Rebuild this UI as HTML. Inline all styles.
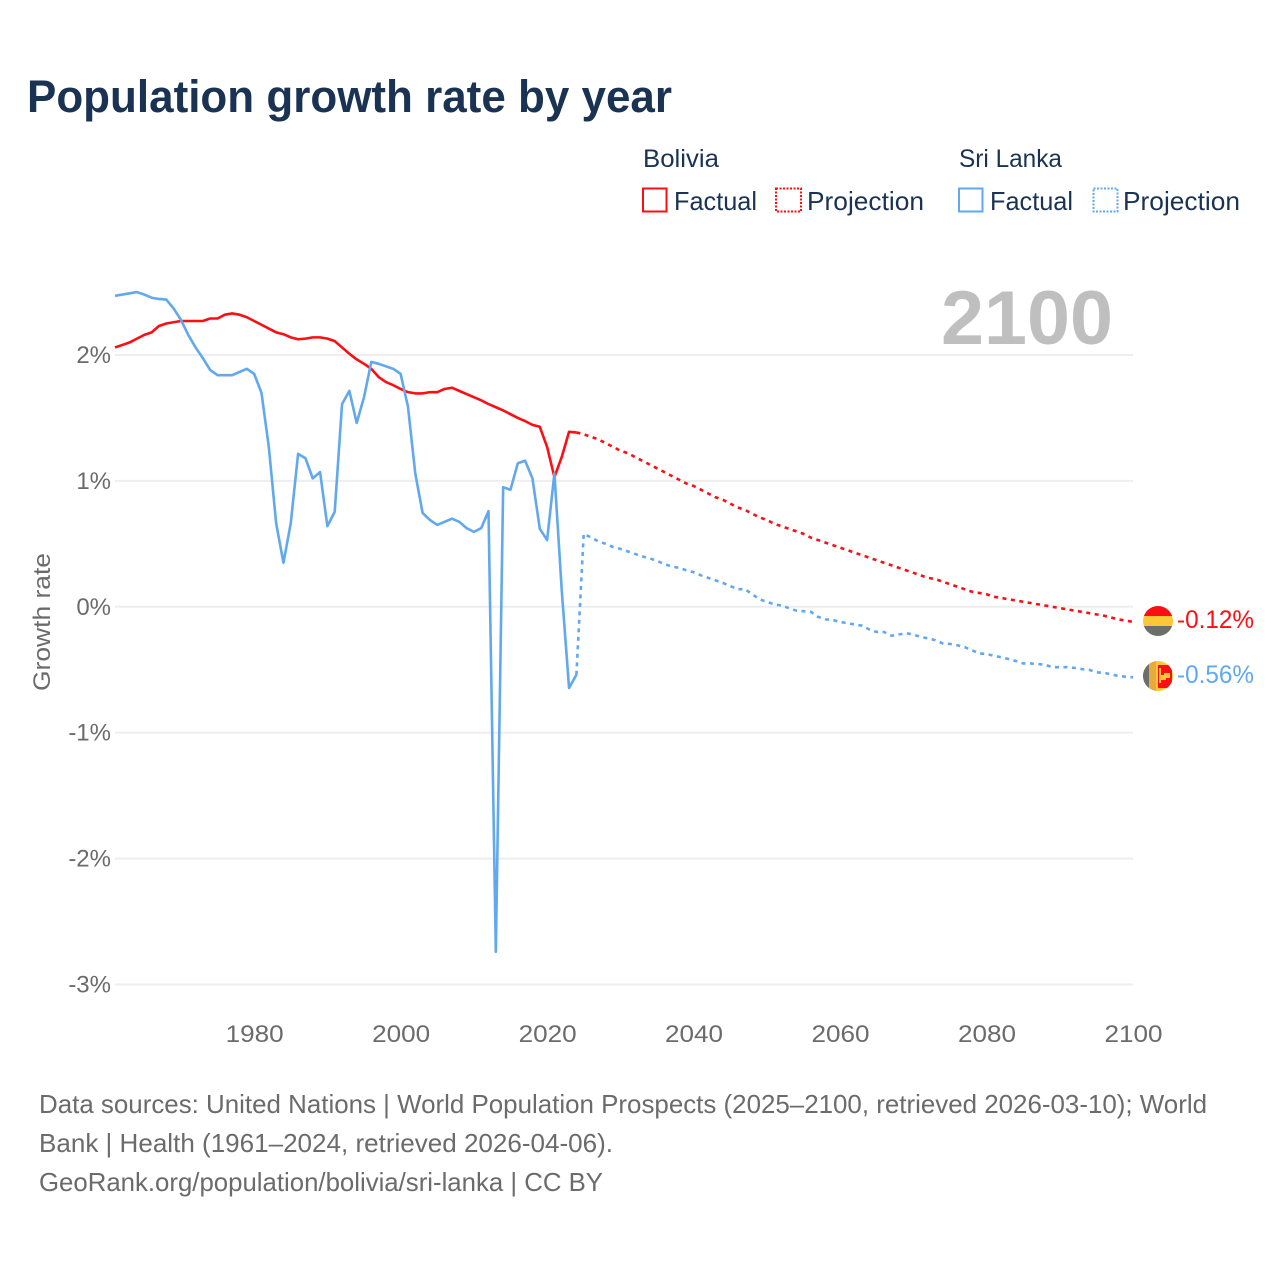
<!DOCTYPE html>
<html lang="en">
<head>
<meta charset="utf-8">
<title>Population growth rate by year</title>
<style>
html,body{margin:0;padding:0;background:#fff;width:1280px;height:1280px;overflow:hidden}
svg{display:block}
text{font-family:"Liberation Sans",sans-serif}
</style>
</head>
<body>
<svg id="chart" xmlns="http://www.w3.org/2000/svg" width="1280" height="1280" viewBox="0 0 1280 1280">
  <text x="27" y="112" font-size="45" font-weight="700" fill="#1a3353" textLength="645" lengthAdjust="spacingAndGlyphs">Population growth rate by year</text>

  <g>
    <text x="643" y="167" font-size="25" fill="#1a3353" textLength="76" lengthAdjust="spacingAndGlyphs">Bolivia</text>
    <text x="959" y="167" font-size="25" fill="#1a3353" textLength="103" lengthAdjust="spacingAndGlyphs">Sri Lanka</text>
    <g>
      <rect x="643" y="188.500" width="23.500" height="23" fill="none" stroke="#fb0f14" stroke-width="2"/>
      <text x="674" y="210" font-size="26" fill="#1a3353" textLength="83" lengthAdjust="spacingAndGlyphs">Factual</text>
    </g>
    <g>
      <rect x="776" y="188.500" width="25" height="23" fill="none" stroke="#fb0f14" stroke-width="2" stroke-dasharray="2 1.500"/>
      <text x="807" y="210" font-size="26" fill="#1a3353" textLength="117" lengthAdjust="spacingAndGlyphs">Projection</text>
    </g>
    <g>
      <rect x="959" y="188.500" width="23.500" height="23" fill="none" stroke="#61a8ee" stroke-width="2"/>
      <text x="990" y="210" font-size="26" fill="#1a3353" textLength="83" lengthAdjust="spacingAndGlyphs">Factual</text>
    </g>
    <g>
      <rect x="1093.500" y="188.500" width="24" height="23" fill="none" stroke="#61a8ee" stroke-width="2" stroke-dasharray="2 1.500"/>
      <text x="1123" y="210" font-size="26" fill="#1a3353" textLength="117" lengthAdjust="spacingAndGlyphs">Projection</text>
    </g>
  </g>

  <g id="grid"></g>
  <text x="941" y="344" font-size="76" font-weight="700" fill="#bfbfbf" textLength="172" lengthAdjust="spacingAndGlyphs">2100</text>
  <g id="yticks"></g>
  <g id="xticks"></g>
  <text transform="translate(50,622) rotate(-90)" text-anchor="middle" font-size="24" fill="#6b6b6b" textLength="138" lengthAdjust="spacingAndGlyphs">Growth rate</text>
  <g id="series"></g>

  <defs>
    <clipPath id="flag-clip-bo"><circle cx="1158" cy="621" r="15"/></clipPath>
    <clipPath id="flag-clip-lk"><circle cx="1158" cy="676" r="15"/></clipPath>
  </defs>
  <g clip-path="url(#flag-clip-bo)">
    <rect x="1143" y="606" width="30" height="10" fill="#fb0f14"/>
    <rect x="1143" y="616" width="30" height="10" fill="#fec737"/>
    <rect x="1143" y="626" width="30" height="10" fill="#6b6e6b"/>
  </g>
  <g clip-path="url(#flag-clip-lk)">
    <rect x="1143" y="661" width="30" height="30" fill="#fec737"/>
    <rect x="1143" y="661" width="6" height="30" fill="#6b6e6b"/>
    <rect x="1149" y="661" width="7" height="30" fill="#e9a93c"/>
    <rect x="1158" y="665" width="14" height="23" fill="#fb0f14"/>
    <path d="M1159 668h2v7h3v-2h6v5h-4v2h-5v3h-2z" fill="#fec737"/>
  </g>
  <text x="1177" y="628" font-size="25" fill="#fb0f14" textLength="77" lengthAdjust="spacingAndGlyphs">-0.12%</text>
  <text x="1177" y="683" font-size="25" fill="#61a8ee" textLength="77" lengthAdjust="spacingAndGlyphs">-0.56%</text>

  <g font-size="26" fill="#6b6b6b">
    <text x="39" y="1113" textLength="1168" lengthAdjust="spacingAndGlyphs">Data sources: United Nations | World Population Prospects (2025–2100, retrieved 2026-03-10); World</text>
    <text x="39" y="1152" textLength="574" lengthAdjust="spacingAndGlyphs">Bank | Health (1961–2024, retrieved 2026-04-06).</text>
    <text x="39" y="1191" textLength="564" lengthAdjust="spacingAndGlyphs">GeoRank.org/population/bolivia/sri-lanka | CC BY</text>
  </g>
</svg>
<script>
const firstYear = 1961;
const yTickValues = [2, 1, 0, -1, -2, -3];
const yTickLabels = ['2%', '1%', '0%', '-1%', '-2%', '-3%'];
const xTickValues = [1980, 2000, 2020, 2040, 2060, 2080, 2100];
const boliviaFactual = [2.06,2.08,2.10,2.13,2.16,2.18,2.23,2.25,2.26,2.27,2.27,2.27,2.27,2.29,2.29,2.32,2.33,2.32,2.30,2.27,2.24,2.21,2.18,2.165,2.14,2.125,2.13,2.14,2.14,2.13,2.11,2.06,2.01,1.965,1.93,1.89,1.825,1.785,1.76,1.73,1.705,1.695,1.695,1.705,1.705,1.73,1.74,1.715,1.69,1.665,1.64,1.61,1.585,1.56,1.53,1.50,1.475,1.445,1.43,1.27,1.03,1.19,1.39,1.385];
const boliviaProjection = [1.37,1.35,1.33,1.30,1.27,1.24,1.22,1.19,1.16,1.13,1.10,1.07,1.04,1.01,0.98,0.96,0.93,0.90,0.87,0.85,0.82,0.79,0.77,0.74,0.71,0.69,0.66,0.64,0.62,0.60,0.58,0.55,0.53,0.51,0.49,0.47,0.45,0.43,0.41,0.39,0.37,0.35,0.33,0.31,0.29,0.27,0.25,0.23,0.22,0.20,0.18,0.16,0.14,0.12,0.11,0.10,0.08,0.07,0.06,0.05,0.04,0.03,0.02,0.01,0.00,-0.01,-0.02,-0.03,-0.04,-0.05,-0.06,-0.07,-0.085,-0.10,-0.11,-0.12];
const sriLankaFactual = [2.47,2.48,2.49,2.50,2.48,2.455,2.445,2.44,2.37,2.28,2.16,2.06,1.975,1.88,1.84,1.84,1.84,1.865,1.89,1.85,1.70,1.27,0.665,0.35,0.665,1.215,1.18,1.02,1.07,0.64,0.755,1.61,1.715,1.46,1.665,1.945,1.93,1.91,1.89,1.85,1.59,1.06,0.745,0.69,0.65,0.675,0.70,0.675,0.625,0.595,0.625,0.76,-2.74,0.95,0.93,1.14,1.16,1.02,0.62,0.53,1.06,0.13,-0.645,-0.54];
const sriLankaProjection = [0.58,0.55,0.52,0.50,0.475,0.46,0.44,0.42,0.40,0.385,0.365,0.34,0.32,0.31,0.29,0.275,0.25,0.23,0.21,0.19,0.165,0.14,0.14,0.10,0.06,0.04,0.02,0.01,-0.01,-0.03,-0.035,-0.04,-0.08,-0.10,-0.105,-0.12,-0.13,-0.14,-0.15,-0.18,-0.20,-0.20,-0.23,-0.22,-0.21,-0.22,-0.24,-0.25,-0.265,-0.29,-0.295,-0.305,-0.32,-0.345,-0.37,-0.375,-0.39,-0.40,-0.415,-0.43,-0.45,-0.45,-0.455,-0.46,-0.48,-0.48,-0.48,-0.485,-0.495,-0.50,-0.52,-0.525,-0.535,-0.55,-0.555,-0.56];

const NS = 'http://www.w3.org/2000/svg';
const xScale = function (year) { return 115 + (year - 1961) * (1133 - 115) / 139; };
const yScale = function (v) { return 606.8 - v * 125.9; };

function make(tag, parentId, attrs, text) {
  const el = document.createElementNS(NS, tag);
  for (const k in attrs) { el.setAttribute(k, attrs[k]); }
  if (text !== undefined) { el.textContent = text; }
  document.getElementById(parentId).appendChild(el);
  return el;
}

yTickValues.forEach(function (v, i) {
  const line = make('line', 'grid', {x1: 115, x2: 1133, y1: yScale(v), y2: yScale(v), stroke: '#eeeeee', 'stroke-width': 2});
  
  
  const label = make('text', 'yticks', {x: 111, y: yScale(v) + 8, 'text-anchor': 'end', 'font-size': 24, fill: '#6b6b6b'}, yTickLabels[i]);
  
  
});

xTickValues.forEach(function (year) {
  const label = make('text', 'xticks', {x: xScale(year) + 0.500, y: 1042, 'text-anchor': 'middle', 'font-size': 24, fill: '#6b6b6b', textLength: 58, lengthAdjust: 'spacingAndGlyphs'}, String(year));
  
  
});

function linePath(values, startYear) {
  return values.map(function (v, i) {
    return (i ? 'L' : 'M') + xScale(startYear + i).toFixed(2) + ' ' + yScale(v).toFixed(2);
  }).join('');
}

function drawSeries(factual, projection, color) {
  const start = firstYear + factual.length;
  const joined = [factual[factual.length - 1]].concat(projection);
  const dashed = make('path', 'series', {d: linePath(joined, start - 1), fill: 'none', stroke: color, 'stroke-width': 2.600, 'stroke-dasharray': '4 4.500', 'stroke-linejoin': 'round'});
  
  
  const solid = make('path', 'series', {d: linePath(factual, firstYear), fill: 'none', stroke: color, 'stroke-width': 2.600, 'stroke-linejoin': 'round'});
  
  
}

drawSeries(boliviaFactual, boliviaProjection, '#fb0f14');
drawSeries(sriLankaFactual, sriLankaProjection, '#61a8ee');
</script>
</body>
</html>
